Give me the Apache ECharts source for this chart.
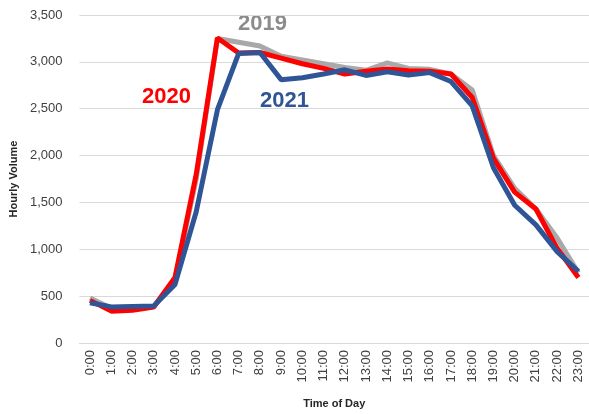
<!DOCTYPE html>
<html>
<head>
<meta charset="utf-8">
<script src="https://cdn.jsdelivr.net/npm/echarts@6/dist/echarts.min.js"></script>
<style>html,body{margin:0;padding:0;background:#fff}#c{width:589px;height:414px}</style>
</head>
<body>
<div id="c"></div>
<script>
var hours = ['0:00','1:00','2:00','3:00','4:00','5:00','6:00','7:00','8:00','9:00','10:00','11:00','12:00','13:00','14:00','15:00','16:00','17:00','18:00','19:00','20:00','21:00','22:00','23:00'];
var v2019 = [480,370,370,390,680,1750,3250,3210,3170,3060,3020,2980,2940,2910,2990,2930,2920,2870,2700,2000,1650,1430,1120,750];
var v2020 = [455,340,350,385,700,1800,3255,3095,3100,3040,2980,2930,2870,2900,2925,2905,2900,2870,2620,1970,1610,1430,1010,700];
var v2021 = [430,385,390,395,625,1400,2490,3090,3100,2810,2830,2870,2915,2855,2895,2860,2885,2790,2530,1870,1470,1260,975,765];
var yTicks = [0,500,1000,1500,2000,2500,3000,3500];

var chart = echarts.init(document.getElementById('c'), null, {renderer:'canvas'});
var font = '"Liberation Sans", Arial, sans-serif';
chart.setOption({
  animation:false,
  grid:{left:77, top:15, width:513, height:330, containLabel:false},
  xAxis:{
    type:'category', data:hours, boundaryGap:true,
    axisLine:{show:true, lineStyle:{color:'#d9d9d9', width:1}},
    axisTick:{show:false},
    axisLabel:{rotate:90, margin:7, color:'#404040', fontSize:13, fontFamily:font, interval:0},
    name:'Time of Day', nameLocation:'middle', nameGap:55,
    nameTextStyle:{fontWeight:'bold', fontSize:11, color:'#262626', fontFamily:font}
  },
  yAxis:{
    type:'value', min:yTicks[0], max:yTicks[yTicks.length-1], interval:500,
    axisLine:{show:false}, axisTick:{show:false},
    splitLine:{lineStyle:{color:'#d9d9d9', width:1}},
    axisLabel:{margin:17, color:'#404040', fontSize:13, fontFamily:font,
      formatter:function(v){return v.toLocaleString('en-US');}},
    name:'Hourly Volume', nameLocation:'middle', nameGap:55, nameRotate:90,
    nameTextStyle:{fontWeight:'bold', fontSize:11, color:'#262626', fontFamily:font}
  },
  series:[
    {name:'2019', type:'line', data:v2019, symbol:'none', lineStyle:{color:'#a9a9a9', width:5}, z:1},
    {name:'2020', type:'line', data:v2020, symbol:'none', lineStyle:{color:'#ff0000', width:5}, z:2},
    {name:'2021', type:'line', data:v2021, symbol:'none', lineStyle:{color:'#2f5597', width:5}, z:3}
  ],
  graphic:[
    {type:'text', left:238, top:13, style:{text:'2019', fill:'#8c8c8c', font:'bold 22px '+font}},
    {type:'text', left:142, top:86, style:{text:'2020', fill:'#ff0000', font:'bold 22px '+font}},
    {type:'text', left:260, top:90, style:{text:'2021', fill:'#2f5597', font:'bold 22px '+font}}
  ]
});
</script>
</body>
</html>
